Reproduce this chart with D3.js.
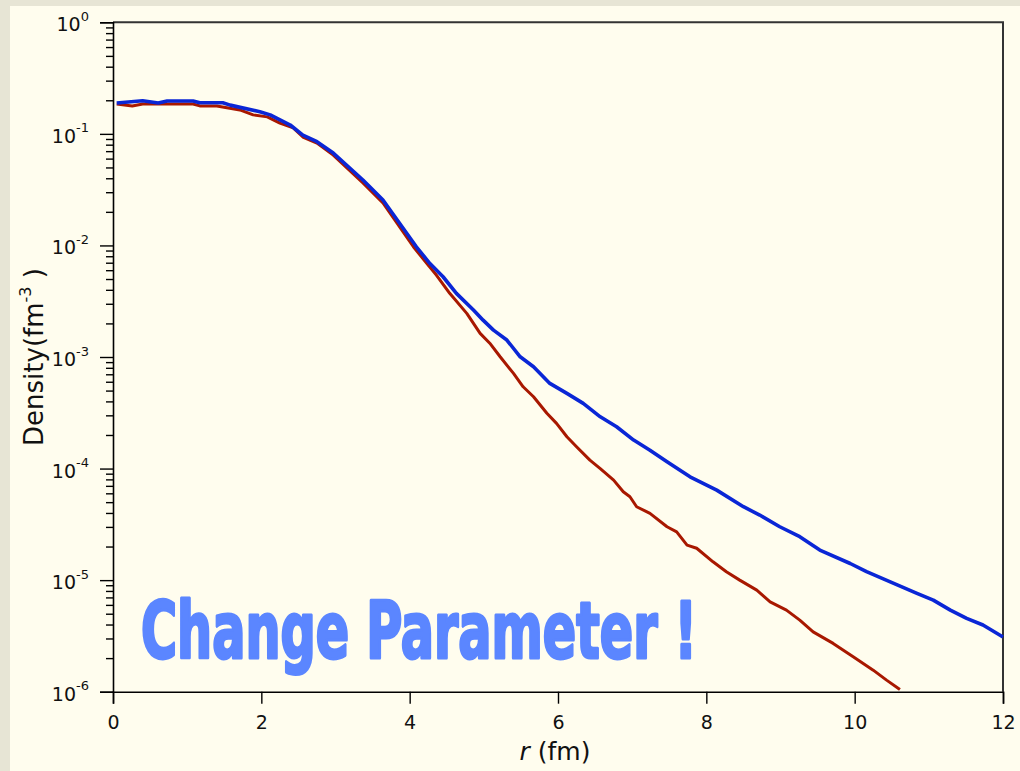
<!DOCTYPE html>
<html>
<head>
<meta charset="utf-8">
<script src="https://cdn.jsdelivr.net/npm/d3@7"></script>
<style>
  html, body { margin: 0; padding: 0; background: #e7e5d5; }
  svg { display: block; }
</style>
</head>
<body>
<svg id="chart" width="1020" height="771"></svg>
<script>
// Radial density profiles, r in fm, density in fm^-3
const radiusBlue = [0.05, 0.09, 0.40, 0.61, 0.73, 1.08, 1.17, 1.48, 1.58, 1.98, 2.12, 2.39, 2.56, 2.75, 2.97,
  3.37, 3.64, 4.09, 4.27, 4.45, 4.63, 4.86, 4.99, 5.13, 5.31, 5.49, 5.67, 5.89, 6.12, 6.34, 6.57, 6.79,
  7.02, 7.24, 7.47, 7.78, 8.14, 8.50, 8.72, 8.99, 9.26, 9.53, 9.94, 10.16, 10.48, 10.84, 11.06, 11.29, 11.51,
  11.73, 12.0];
const densityBlue = [0.189, 0.190, 0.198, 0.189, 0.197, 0.197, 0.190, 0.190, 0.181, 0.158, 0.148, 0.120, 0.0976,
  0.0850, 0.0673, 0.0386, 0.0255, 0.00973, 0.00691, 0.00524, 0.00372, 0.00264, 0.00214, 0.00174,
  0.00142, 0.001005, 0.000818, 0.000580, 0.000472, 0.000384, 0.000291, 0.000237, 0.000180, 0.000146, 0.000115,
  8.44e-5, 6.41e-5, 4.55e-5, 3.83e-5, 3.01e-5, 2.45e-5, 1.86e-5, 1.41e-5, 1.19e-5, 9.66e-6, 7.61e-6, 6.62e-6,
  5.39e-6, 4.54e-6, 3.96e-6, 3.09e-6];

const radiusRed = [0.05, 0.26, 0.40, 1.08, 1.17, 1.40, 1.71, 1.89, 2.08, 2.25, 2.43, 2.56, 2.75, 2.97, 3.37, 3.64,
  4.05, 4.23, 4.36, 4.54, 4.77, 4.95, 5.08, 5.22, 5.40, 5.53, 5.67, 5.85, 5.98, 6.12, 6.25, 6.43, 6.57,
  6.75, 6.88, 6.97, 7.06, 7.24, 7.47, 7.60, 7.74, 7.87, 8.09, 8.27, 8.45, 8.68, 8.86, 9.08, 9.26, 9.44, 9.71,
  9.98, 10.25, 10.43, 10.61];
const densityRed = [0.185, 0.178, 0.185, 0.185, 0.178, 0.178, 0.164, 0.148, 0.142, 0.125, 0.113, 0.0937, 0.0828,
  0.0646, 0.0363, 0.0240, 0.00973, 0.00691, 0.00543, 0.00372, 0.00246, 0.00163, 0.00133, 0.001005,
  0.000713, 0.000541, 0.000440, 0.000313, 0.000254, 0.000193, 0.000157, 0.000119, 0.000100, 7.88e-5, 6.19e-5,
  5.59e-5, 4.55e-5, 3.97e-5, 3.01e-5, 2.71e-5, 2.06e-5, 1.93e-5, 1.46e-5, 1.19e-5, 1.00e-5, 8.14e-6, 6.39e-6,
  5.39e-6, 4.38e-6, 3.44e-6, 2.71e-6, 2.06e-6, 1.56e-6, 1.27e-6, 1.048e-6];

const xTickValues = [0, 2, 4, 6, 8, 10, 12];
const yExponents = [0, -1, -2, -3, -4, -5, -6];

const svg = d3.select("#chart");
const W = 1020, H = 771;
const plot = { left: 113, right: 1003, top: 22.3, bottom: 691.7 };

// page panel
svg.append("rect").attr("width", W).attr("height", H).attr("fill", "#e7e5d5");
svg.append("rect").attr("x", 10).attr("y", 6).attr("width", W - 10).attr("height", H - 6).attr("fill", "#fffdee");

const x = d3.scaleLinear().domain([0, 12]).range([plot.left, plot.right]);
const y = d3.scaleLog().domain([1e-6, 1]).range([plot.bottom, plot.top]);

// frame: top and right edges
svg.append("path")
  .attr("d", `M${plot.left},${plot.top}H${plot.right}V${plot.bottom}`)
  .attr("fill", "none").attr("stroke", "#333").attr("stroke-width", 2);

// x axis
const xAxis = d3.axisBottom(x).tickValues(xTickValues).tickSize(12).tickFormat(d3.format("d"));
const gx = svg.append("g").attr("transform", `translate(0,${plot.bottom})`).call(xAxis);
gx.select(".domain").attr("stroke", "#000").attr("stroke-width", 1.6);
gx.selectAll(".tick line").attr("stroke", "#000").attr("stroke-width", 1.4);
gx.selectAll(".tick text")
  .attr("font-family", "DejaVu Sans, Verdana, sans-serif")
  .attr("font-size", 19).attr("fill", "#111").attr("dy", 0).attr("y", 37);

// y axis: minor ticks (2..9 within each decade)
const minorVals = [];
for (let e = -6; e < 0; e++) for (let m = 2; m <= 9; m++) minorVals.push(m * Math.pow(10, e));
const yMinor = d3.axisLeft(y).tickValues(minorVals).tickSize(7).tickFormat("");
const gyMinor = svg.append("g").attr("transform", `translate(${plot.left},0)`).call(yMinor);
gyMinor.select(".domain").remove();
gyMinor.selectAll(".tick line").attr("stroke", "#000").attr("stroke-width", 1.4);

// y axis: decades
const yAxis = d3.axisLeft(y).tickValues(yExponents.map(e => Math.pow(10, e))).tickSize(13).tickFormat("");
const gy = svg.append("g").attr("transform", `translate(${plot.left},0)`).call(yAxis);
gy.select(".domain").attr("stroke", "#000").attr("stroke-width", 1.6);
gy.selectAll(".tick line").attr("stroke", "#000").attr("stroke-width", 1.4);

// decade labels 10^n
const yLabels = svg.append("g")
  .attr("font-family", "DejaVu Sans, Verdana, sans-serif").attr("fill", "#111");
yExponents.forEach(e => {
  const t = yLabels.append("text")
    .attr("x", 89).attr("y", y(Math.pow(10, e)) + 9)
    .attr("text-anchor", "end");
  t.append("tspan").attr("font-size", 19).text("10");
  t.append("tspan").attr("font-size", 13).attr("dy", -10.5).text(String(e));
});

// density curves
const line = d3.line().x(d => x(d[0])).y(d => y(d[1]));
const redPts = radiusRed.map((r, i) => [r, densityRed[i]]);
const bluePts = radiusBlue.map((r, i) => [r, densityBlue[i]]);

svg.append("path").datum(redPts).attr("d", line)
  .attr("fill", "none").attr("stroke", "#a81800").attr("stroke-width", 3)
  .attr("stroke-linejoin", "round");
svg.append("path").datum(bluePts).attr("d", line)
  .attr("fill", "none").attr("stroke", "#0a26d6").attr("stroke-width", 3.6)
  .attr("stroke-linejoin", "round");

// axis titles
const xt = svg.append("text")
  .attr("x", 555).attr("y", 760).attr("text-anchor", "middle")
  .attr("font-family", "DejaVu Sans, Verdana, sans-serif").attr("font-size", 25).attr("fill", "#111");
xt.append("tspan").attr("font-style", "italic").text("r");
xt.append("tspan").text(" (fm)");

const yt = svg.append("text")
  .attr("transform", "translate(43,357) rotate(-90)")
  .attr("text-anchor", "middle")
  .attr("font-family", "DejaVu Sans, Verdana, sans-serif").attr("font-size", 26).attr("fill", "#111");
yt.append("tspan").text("Density(fm");
yt.append("tspan").attr("font-size", 16).attr("dy", -12).text("-3");
yt.append("tspan").attr("dy", 12).text(" )");

// banner
svg.append("text")
  .attr("x", 141).attr("y", 658)
  .attr("font-family", "DejaVu Sans Condensed, DejaVu Sans, sans-serif")
  .attr("font-weight", "bold").attr("font-size", 78)
  .attr("textLength", 556).attr("lengthAdjust", "spacingAndGlyphs")
  .attr("fill", "#5b86ff").attr("stroke", "#5b86ff").attr("stroke-width", 3)
  .attr("stroke-linejoin", "round")
  .text("Change Parameter !");
</script>
</body>
</html>
